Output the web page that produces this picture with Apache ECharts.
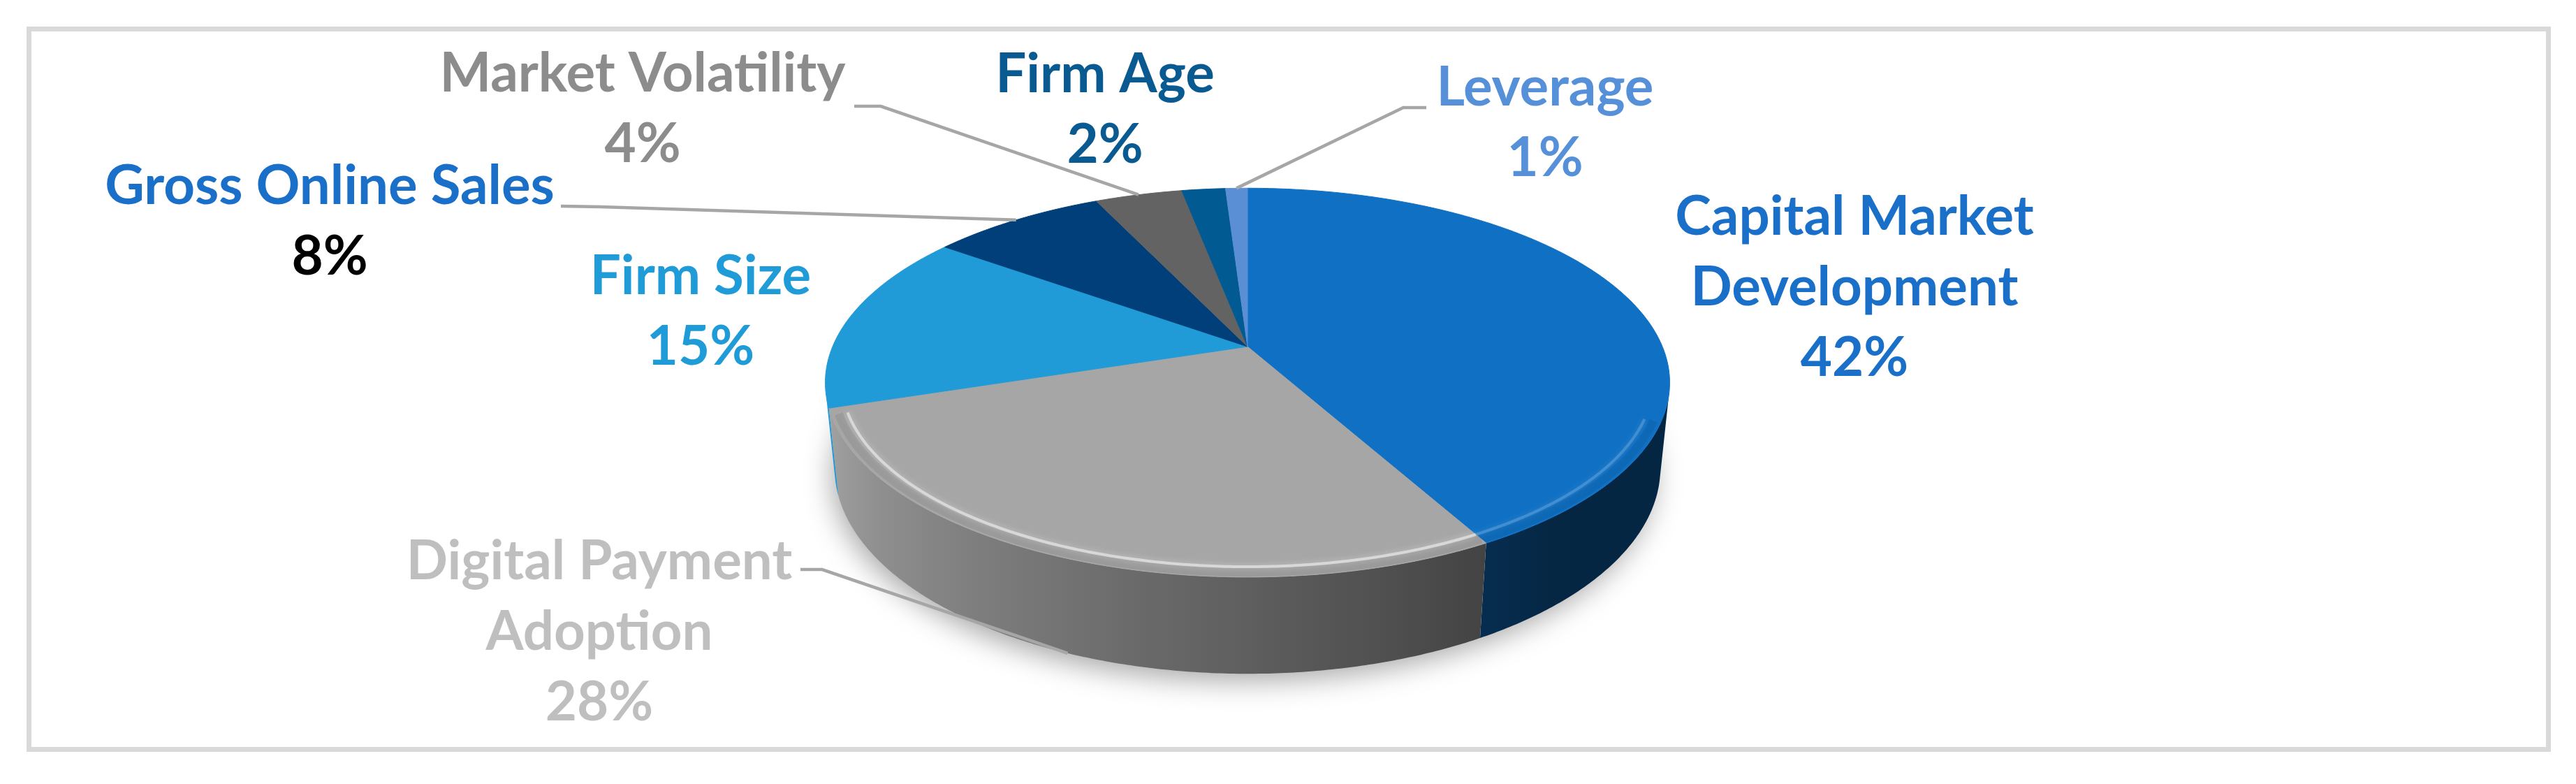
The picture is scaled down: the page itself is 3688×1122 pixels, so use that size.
<!DOCTYPE html>
<html>
<head>
<meta charset="utf-8">
<title>Determinants share</title>
<script src="https://cdn.jsdelivr.net/npm/echarts@6/dist/echarts.min.js"></script>
<style>
html, body { margin: 0; padding: 0; background: #fff; }
#main { width: 3688px; height: 1122px; }
</style>
</head>
<body>
<div id="main"></div>
<script>
// data
var names = ['Capital Market\nDevelopment', 'Digital Payment\nAdoption', 'Firm Size', 'Gross Online Sales', 'Market Volatility', 'Firm Age', 'Leverage'];
var values = [42, 28, 15, 8, 4, 2, 1];

// styles
var topColors = ['#0f70c4', '#a6a6a6', '#219bd7', '#003f7a', '#636363', '#025a93', '#5a8fd5'];
var nameColors = ['#1a70c8', '#bfbfbf', '#1f9bd8', '#1a6fc9', '#8c8c8c', '#0a5a92', '#5590d8'];
var pctColors = ['#1a70c8', '#bfbfbf', '#1f9bd8', '#000000', '#8c8c8c', '#0a5a92', '#5590d8'];
var rimAlpha = [0.18, 0.5, 0.3, 0.2, 0.3, 0.2, 0.2];

// label layout: centre x, first baseline, leader start points, leader to bottom rim?
var labelLayout = [
    {x: 2655, y: 340, lead: null},
    {x: 858, y: 833, lead: [[1146, 815], [1177, 815]], bottom: true},
    {x: 1003, y: 425, lead: null},
    {x: 472, y: 296, lead: [[803, 295], [860, 296]]},
    {x: 920, y: 135, lead: [[1223, 152], [1261, 152]]},
    {x: 1582, y: 136, lead: null},
    {x: 2212, y: 155, lead: [[2042, 154], [2009, 154]]}
];

// 3d view
var cx = 1786, cy = 496, S = 594;
var phi = 26.9 * Math.PI / 180, D = 4.81, H = 0.232;
var lineGap = 101;
var FONT = 'bold 78px Lato';

var total = values.reduce(function (a, b) { return a + b; }, 0);
var starts = [], ends = [];
var acc = 0;
for (var i = 0; i < values.length; i++) {
    starts.push(acc / total * Math.PI * 2);
    acc += values[i];
    ends.push(acc / total * Math.PI * 2);
}

function project(a, y, r) {
    if (r == null) r = 1;
    var x = r * Math.sin(a), z = -r * Math.cos(a);
    var depth = 1 - (y * Math.sin(phi) + z * Math.cos(phi)) / D;
    return [cx + S * x / depth, cy - S * (y * Math.cos(phi) - z * Math.sin(phi)) / depth];
}

function arc(a0, a1, y, r) {
    var pts = [];
    var n = Math.max(2, Math.ceil(Math.abs(a1 - a0) / (Math.PI / 360)));
    for (var k = 0; k <= n; k++) {
        pts.push(project(a0 + (a1 - a0) * k / n, y, r));
    }
    return pts;
}

// front facing part of the side wall
var visLimit = Math.acos(-1 / (D * Math.cos(phi)));
var vis0 = visLimit, vis1 = Math.PI * 2 - visLimit;

function shade(hex, f) {
    var r = parseInt(hex.slice(1, 3), 16), g = parseInt(hex.slice(3, 5), 16), b = parseInt(hex.slice(5, 7), 16);
    return 'rgb(' + Math.round(r * f) + ',' + Math.round(g * f) + ',' + Math.round(b * f) + ')';
}
function light(a) {
    var deg = a * 180 / Math.PI;
    var t = Math.max(0, Math.min(1, (deg - 140) / 116));
    return 0.34 + 0.66 * t;
}

function renderWall(params, api) {
    var i = params.dataIndex;
    var children = [];
    if (i === 0) {
        children.push({
            type: 'polygon',
            shape: {points: arc(0, Math.PI * 2, -H, 0.995)},
            style: {fill: '#ffffff', shadowBlur: 40, shadowColor: 'rgba(0,0,0,0.35)', shadowOffsetX: -6, shadowOffsetY: 12}
        });
    }
    var a0 = Math.max(starts[i], vis0), a1 = Math.min(ends[i], vis1);
    if (a1 > a0) {
        var pts = arc(a0, a1, 0).concat(arc(a1, a0, -H));
        var xa = project(a0, 0)[0], xb = project(a1, 0)[0];
        var xl = Math.min(xa, xb), xr = Math.max(xa, xb);
        var stops = [];
        for (var k = 0; k <= 10; k++) {
            var a = a0 + (a1 - a0) * k / 10;
            var px = project(a, 0)[0];
            stops.push({offset: xr > xl ? (px - xl) / (xr - xl) : 0, color: shade(topColors[i], light(a))});
        }
        stops.sort(function (p, q) { return p.offset - q.offset; });
        children.push({
            type: 'polygon',
            shape: {points: pts},
            style: {fill: new echarts.graphic.LinearGradient(xl, 0, xr, 0, stops, true), stroke: null}
        });
    }
    return {type: 'group', children: children};
}

function renderTop(params, api) {
    var i = params.dataIndex;
    var children = [];
    var pts = [project(0, 0, 0)].concat(arc(starts[i], ends[i], 0));
    children.push({
        type: 'polygon',
        shape: {points: pts},
        style: {fill: topColors[i], stroke: topColors[i], lineWidth: 1}
    });
    // soft bevel along the front rim
    var h0 = Math.max(starts[i], 112 * Math.PI / 180), h1 = Math.min(ends[i], 250 * Math.PI / 180);
    if (h1 > h0) {
        children.push({
            type: 'polyline',
            shape: {points: arc(h0, h1, 0, 0.983)},
            style: {fill: null, stroke: 'rgba(0,0,0,0.07)', lineWidth: 12}
        });
        children.push({
            type: 'polyline',
            shape: {points: arc(h0, h1, 0, 0.963)},
            style: {fill: null, stroke: 'rgba(255,255,255,' + rimAlpha[i] + ')', lineWidth: 4, shadowBlur: 10, shadowColor: 'rgba(255,255,255,0.8)'}
        });
    }
    return {type: 'group', children: children};
}

function renderLabel(params, api) {
    var i = params.dataIndex;
    var lay = labelLayout[i];
    var children = [];
    if (lay.lead) {
        var mid = (starts[i] + ends[i]) / 2;
        var end = project(mid, lay.bottom ? -H : 0);
        children.push({
            type: 'polyline',
            shape: {points: lay.lead.concat([end])},
            style: {fill: null, stroke: '#a6a6a6', lineWidth: 4.5}
        });
    }
    var lines = names[i].split('\n');
    var pct = Math.round(api.value(0) / total * 100) + '%';
    lines.forEach(function (t, k) {
        children.push({
            type: 'text',
            x: lay.x, y: lay.y + k * lineGap - 29,
            style: {text: t, font: FONT, fill: nameColors[i], align: 'center', verticalAlign: 'middle'}
        });
    });
    children.push({
        type: 'text',
        x: lay.x, y: lay.y + lines.length * lineGap - 29,
        style: {text: pct, font: FONT, fill: pctColors[i], align: 'center', verticalAlign: 'middle'}
    });
    return {type: 'group', children: children};
}

var chart = echarts.init(document.getElementById('main'));
var option = {
    backgroundColor: '#ffffff',
    animation: false,
    graphic: [{
        type: 'rect',
        shape: {x: 41.5, y: 41.5, width: 3607, height: 1031},
        style: {fill: null, stroke: '#d9d9d9', lineWidth: 7},
        z: -10
    }],
    series: [
        {type: 'custom', coordinateSystem: 'none', silent: true, z: 1, renderItem: renderWall, data: values},
        {type: 'custom', coordinateSystem: 'none', silent: true, z: 2, renderItem: renderTop, data: values},
        {type: 'custom', coordinateSystem: 'none', silent: true, z: 3, renderItem: renderLabel, data: values}
    ]
};
chart.setOption(option);
</script>
</body>
</html>
